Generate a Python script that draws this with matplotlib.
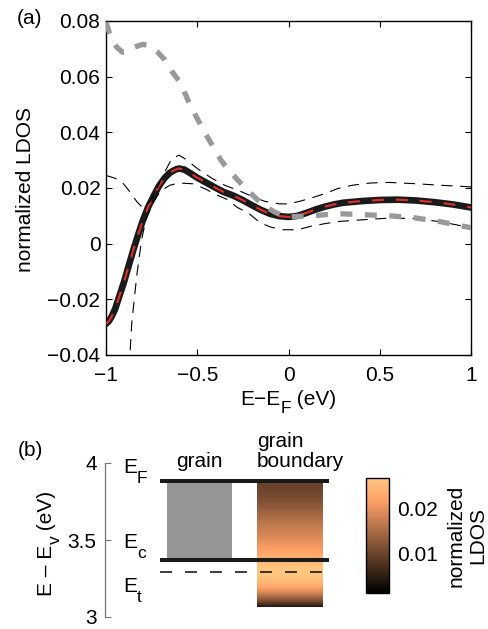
import numpy as np
import matplotlib
matplotlib.use("Agg")
import matplotlib.pyplot as plt
from matplotlib.colors import Normalize
from matplotlib.cm import ScalarMappable

plt.rcParams['font.family'] = ['Liberation Sans', 'DejaVu Sans']
plt.rcParams['lines.scale_dashes'] = False

# ---------------- data (panel a) ----------------
main_x = [-1.00, -0.985, -0.97, -0.95, -0.925, -0.90, -0.875, -0.85, -0.825, -0.80,
          -0.77, -0.74, -0.71, -0.68, -0.65, -0.62, -0.60, -0.57, -0.54, -0.50,
          -0.45, -0.40, -0.36, -0.30, -0.25, -0.20, -0.15, -0.10, -0.05, 0.00,
          0.05, 0.10, 0.15, 0.20, 0.25, 0.30, 0.40, 0.50, 0.60, 0.70, 0.80, 0.90, 1.00]
main_y = [-0.0288, -0.0279, -0.0263, -0.0235, -0.0185, -0.0135, -0.0078, -0.0022, 0.0030, 0.0080,
          0.0130, 0.0170, 0.0207, 0.0235, 0.0255, 0.0266, 0.0270, 0.0266, 0.0254, 0.0237,
          0.0219, 0.0201, 0.0187, 0.0172, 0.0156, 0.0138, 0.0121, 0.0107, 0.0099, 0.0096,
          0.0100, 0.0111, 0.0123, 0.0133, 0.0141, 0.0147, 0.0153, 0.0157, 0.0158, 0.0155, 0.0149, 0.0141, 0.0130]

upper_x = [-1.00, -0.95, -0.91, -0.87, -0.83, -0.80, -0.76, -0.72, -0.68, -0.64,
           -0.60, -0.56, -0.50, -0.42, -0.35, -0.27, -0.20, -0.13, -0.05, 0.00,
           0.06, 0.13, 0.20, 0.27, 0.35, 0.45, 0.55, 0.68, 0.83, 1.00]
upper_y = [0.0245, 0.0235, 0.0220, 0.0187, 0.0150, 0.0130, 0.0150, 0.0200, 0.0255, 0.0305,
           0.0318, 0.0302, 0.0270, 0.0235, 0.0210, 0.0190, 0.0170, 0.0152, 0.0143, 0.0143,
           0.0152, 0.0165, 0.0180, 0.0198, 0.0210, 0.0218, 0.0220, 0.0216, 0.0210, 0.0204]

lower_x = [-0.875, -0.868, -0.859, -0.845, -0.832, -0.805, -0.78, -0.74, -0.70, -0.65,
           -0.60, -0.52, -0.45, -0.40, -0.34, -0.28, -0.22, -0.155, -0.10, -0.03,
           0.05, 0.12, 0.20, 0.28, 0.41, 0.555, 0.70, 0.83, 0.98, 1.00]
lower_y = [-0.0450, -0.0390, -0.0285, -0.0200, -0.0117, 0.0014, 0.0090, 0.0150, 0.0190, 0.0210,
           0.0218, 0.0215, 0.0195, 0.0177, 0.0160, 0.0130, 0.0110, 0.0075, 0.0060, 0.0050,
           0.0050, 0.0062, 0.0072, 0.0080, 0.0086, 0.0092, 0.0090, 0.0079, 0.0060, 0.0058]

grain_x = [-1.00, -0.97, -0.94, -0.91, -0.88, -0.85, -0.80, -0.76, -0.72, -0.677,
           -0.64, -0.595, -0.54, -0.474, -0.414, -0.37, -0.33, -0.28, -0.237, -0.19,
           -0.14, -0.08, -0.02, 0.05, 0.13, 0.265, 0.41, 0.556, 0.69, 0.83, 0.98, 1.00]
grain_y = [0.0795, 0.0735, 0.0705, 0.0688, 0.0690, 0.0705, 0.0716, 0.0712, 0.0690, 0.0660,
           0.0620, 0.0580, 0.0500, 0.0417, 0.0349, 0.0300, 0.0266, 0.0230, 0.0200, 0.0170,
           0.0140, 0.0115, 0.0097, 0.0098, 0.0100, 0.0108, 0.0104, 0.0100, 0.0093, 0.0079, 0.0060, 0.0057]

xticks_a = [-1, -0.5, 0, 0.5, 1]
xticklabels_a = ['\u22121', '\u22120.5', '0', '0.5', '1']
yticks_a = [-0.04, -0.02, 0, 0.02, 0.04, 0.06, 0.08]
yticklabels_a = ['\u22120.04', '\u22120.02', '0', '0.02', '0.04', '0.06', '0.08']

# ---------------- data (panel b) ----------------
E_F = 3.885
E_c = 3.37
E_t = 3.29
gb_bottom = 3.064
yticks_b = [3, 3.5, 4]
yticklabels_b = ['3', '3.5', '4']
cb_ticks = [0.01, 0.02]
cb_ticklabels = ['0.01', '0.02']
cb_min, cb_max = 0.001, 0.027

W, H = 488, 629
fig = plt.figure(figsize=(W / 100, H / 100), dpi=100)
renderer = fig.canvas.get_renderer()

def fx(px):
    return px / W

def fy(py):
    return 1 - py / H

FS = 15
SUB = 12.5


def seq_text(x0, y0, parts, rotation=0, center=False):
    """Place text pieces one after another; parts = (string, size, drop_px).
    (x0, y0) is the baseline start in pixels from the top-left corner."""
    texts = []
    advances = []
    for s, size, drop in parts:
        t = fig.text(0, 0, s, fontsize=size, ha='left', va='baseline',
                     rotation=rotation, rotation_mode='anchor')
        bb = t.get_window_extent(renderer)
        advances.append(bb.width if rotation == 0 else bb.height)
        texts.append((t, drop))
    total = sum(advances)
    pos = -total / 2 if center else 0
    for (t, drop), adv in zip(texts, advances):
        if rotation == 0:
            t.set_position((fx(x0 + pos), fy(y0 + drop)))
        else:
            t.set_position((fx(x0 + drop), fy(y0 - pos)))
        pos += adv


# ---------------- panel a ----------------
ax = fig.add_axes([fx(106), fy(355), fx(471) - fx(106), fy(21) - fy(355)])
ax.plot(main_x, main_y, color='#1a1a1a', lw=4.8, solid_capstyle='round', zorder=2)
ax.plot(main_x, main_y, color='#e0302a', lw=1.5, dashes=(8.6, 8.6), zorder=3)
ax.plot(upper_x, upper_y, color='black', lw=0.8, dashes=(8.0, 5.5), zorder=4)
ax.plot(lower_x, lower_y, color='black', lw=0.8, dashes=(8.0, 5.5), zorder=4)
ax.plot(grain_x, grain_y, color='#999999', lw=3.8, dashes=(8.6, 9.0), zorder=5)
ax.set_xlim(-1, 1)
ax.set_ylim(-0.04, 0.08)
ax.set_xticks(xticks_a)
ax.set_xticklabels(xticklabels_a)
ax.set_yticks(yticks_a)
ax.set_yticklabels(yticklabels_a)
ax.tick_params(direction='in', top=True, right=True, length=4, width=0.8,
               labelsize=FS, pad=4)
ax.tick_params(axis='x', pad=8)
for s in ax.spines.values():
    s.set_linewidth(1.0)
fig.text(fx(26), fy(190), 'normalized LDOS', rotation=90, ha='center', va='center', fontsize=FS)
seq_text(288, 405, [('E\u2212E', FS, 0), ('F', SUB, 8), (' (eV)', FS, 0)], center=True)
fig.text(fx(29), fy(18), '(a)', ha='center', va='center', fontsize=FS)

# ---------------- panel b ----------------
ax2 = fig.add_axes([fx(105), fy(617), fx(345) - fx(105), fy(463) - fy(617)])
for k in ['top', 'right', 'bottom']:
    ax2.spines[k].set_visible(False)
ax2.spines['left'].set_color('#777777')
ax2.spines['left'].set_linewidth(0.9)
ax2.set_xticks([])
ax2.set_yticks(yticks_b)
ax2.set_yticklabels(yticklabels_b)
ax2.tick_params(axis='y', direction='in', length=4, color='#777777', labelsize=FS, pad=6)
ax2.patch.set_alpha(0)

# grain box
ax2.fill_between([167, 232], E_c, E_F, color='#969696', lw=0, zorder=1)
# grain boundary gradient from the LDOS curve
E_vals = np.linspace(gb_bottom, E_F, 300)
ld = np.interp(E_vals - E_F, main_x, main_y)
norm = Normalize(vmin=cb_min, vmax=cb_max)
ax2.imshow(ld[:, None], cmap='copper', norm=norm, aspect='auto', origin='lower',
           extent=[257, 323, gb_bottom, E_F], interpolation='bilinear', zorder=1)
ax2.set_xlim(105, 345)
ax2.set_ylim(3, 4)
ax2.plot([160, 329], [E_F, E_F], color='#1a1a1a', lw=2.9, solid_capstyle='butt', zorder=3)
ax2.plot([160, 329], [E_c, E_c], color='#1a1a1a', lw=2.9, solid_capstyle='butt', zorder=3)
ax2.plot([160, 326], [E_t, E_t], color='#1a1a1a', lw=1.2, dashes=(8.6, 9.4), zorder=3)

seq_text(123, 473, [('E', FS, 0), ('F', SUB, 10)])
seq_text(123, 548, [('E', FS, 0), ('c', SUB, 10)])
seq_text(123, 592, [('E', FS, 0), ('t', SUB, 10)])
fig.text(fx(199), fy(467), 'grain', ha='center', va='baseline', fontsize=FS)
fig.text(fx(257), fy(467), 'grain\nboundary', ha='left', va='baseline', fontsize=FS,
         multialignment='left', linespacing=1.05)
seq_text(52, 543, [('E \u2013 E', FS, 0), ('v', SUB, 8), (' (eV)', FS, 0)],
         rotation=90, center=True)
fig.text(fx(30), fy(450), '(b)', ha='center', va='center', fontsize=FS)

# colorbar
cax = fig.add_axes([fx(366), fy(593), fx(389) - fx(366), fy(478) - fy(593)])
cb = fig.colorbar(ScalarMappable(norm=norm, cmap='copper'), cax=cax)
cb.set_ticks(cb_ticks)
cb.set_ticklabels(cb_ticklabels)
cax.tick_params(length=0, labelsize=FS, pad=6)
cb.outline.set_linewidth(1.0)
cb.outline.set_edgecolor('black')
fig.text(fx(467), fy(536), 'normalized\nLDOS', rotation=90, ha='center', va='center',
         fontsize=FS, multialignment='center', linespacing=1.15)

fig.savefig('out.png', dpi=100)
